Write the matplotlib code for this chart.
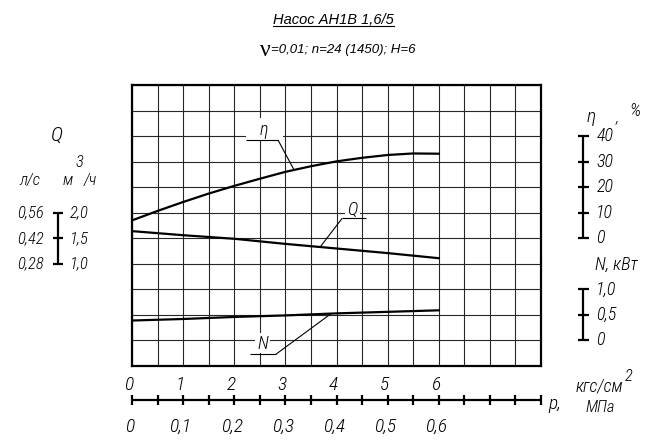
import matplotlib
matplotlib.use('Agg')
import matplotlib.pyplot as plt
from matplotlib.patches import Rectangle
import numpy as np

# pump curves, p in kgf/cm2
p = [0, 0.5, 1, 1.5, 2, 2.5, 3, 3.5, 4, 4.5, 5, 5.5, 6]
eta = [7.0, 10.7, 14.2, 17.5, 20.5, 23.3, 26.0, 28.2, 30.1, 31.5, 32.6, 33.2, 33.1]   # %
p_q = [0, 1, 2, 3, 4, 5, 6]
q = [1.64, 1.56, 1.49, 1.39, 1.30, 1.21, 1.11]        # m3/h
n_kw = [0.39, 0.42, 0.46, 0.49, 0.53, 0.56, 0.59]     # kW

# side scales
q_ticks = [1.0, 1.5, 2.0]
q_ls_lbl = ['0,28', '0,42', '0,56']
q_m3h_lbl = ['1,0', '1,5', '2,0']
eta_ticks = [0, 10, 20, 30, 40]
n_ticks = [0, 0.5, 1.0]
n_lbl = ['0', '0,5', '1,0']
p_ticks = [0, 0.5, 1, 1.5, 2, 2.5, 3, 3.5, 4, 4.5, 5, 5.5, 6, 6.5, 7, 7.5, 8]
p_lbl = [0, 1, 2, 3, 4, 5, 6]
mpa_lbl = ['0', '0,1', '0,2', '0,3', '0,4', '0,5', '0,6']

title = 'Насос АН1В 1,6/5'
subtitle = '=0,01; n=24 (1450); H=6'

# grid units: 2 cells per kgf/cm2, scales put on the rows
def gx(v):
    return 2 * np.asarray(v, dtype=float)

def g_eta(v):
    return 5 + np.asarray(v, dtype=float) / 10

def g_q(v):
    return 2 + 2 * np.asarray(v, dtype=float)

def g_n(v):
    return 1 + 2 * np.asarray(v, dtype=float)

FONT = ['Roboto Condensed', 'DejaVu Sans Condensed', 'DejaVu Sans']
K = 'black'

def txt(x, y, s, size=12, ha='left', va='center', **kw):
    ax.text(x, y, s, fontsize=size, ha=ha, va=va, family=FONT, style='italic',
            fontweight='light', color=K, clip_on=False, **kw)

def seg(xs, ys, lw=1.5, z=4):
    ax.plot(xs, ys, color=K, lw=lw, clip_on=False, solid_capstyle='butt', zorder=z)

fig = plt.figure(figsize=(6.65, 4.48), dpi=100)
ax = fig.add_axes([132 / 665, 1 - 366 / 448, 409 / 665, 281 / 448])
ax.set_xlim(0, 16)
ax.set_ylim(0, 11)
ax.set_xticks(range(17))
ax.set_yticks(range(12))
ax.tick_params(length=0, labelbottom=False, labelleft=False)
ax.grid(True, color='#262626', lw=0.8)
ax.set_axisbelow(True)
for s in ax.spines.values():
    s.set_linewidth(1.6)

# curves
ax.plot(gx(p), g_eta(eta), color=K, lw=1.6, zorder=3)
ax.plot(gx(p_q), g_q(q), color=K, lw=1.6, zorder=3)
ax.plot(gx(p_q), g_n(n_kw), color=K, lw=1.6, zorder=3)

# curve labels with leaders
def curve_label(s, tx, ty, u0, u1, uy, ex, cx, cy, box):
    ax.add_patch(Rectangle((box[0], box[1]), box[2], box[3], fc='white', ec='none', zorder=1.5))
    txt(tx, ty, s, size=13, ha='center')
    seg([u0, u1], [uy, uy], lw=0.8)
    ey = np.interp(ex, cx, cy)
    seg([u1 if ex > u1 else u0, ex], [uy, ey], lw=0.8)

curve_label('η', 5.16, 9.22, 4.46, 5.71, 8.85, 6.34, gx(p), g_eta(eta), (4.46, 8.82, 1.45, 0.9))
curve_label('Q', 8.61, 6.13, 8.22, 9.15, 5.78, 7.36, gx(p_q), g_q(q), (8.35, 5.82, 0.55, 0.62))
curve_label('N', 5.11, 0.85, 4.62, 5.63, 0.46, 7.79, gx(p_q), g_n(n_kw), (4.8, 0.5, 0.6, 0.8))

# left Q scale
xb = -2.88
seg([xb, xb], [g_q(q_ticks[0]), g_q(q_ticks[-1])], lw=1.6)
for v, l1, l2 in zip(q_ticks, q_ls_lbl, q_m3h_lbl):
    seg([xb - 0.22, xb + 0.2], [g_q(v)] * 2, lw=1.6)
    txt(xb - 0.55, g_q(v), l1, size=12, ha='right')
    txt(xb + 0.45, g_q(v), l2, size=12)
txt(-2.95, 9.05, 'Q', size=15, ha='center')
txt(-4.0, 7.28, 'л/с', size=12, ha='center')
txt(-2.50, 7.28, 'м', size=12, ha='center')
txt(-2.07, 7.95, '3', size=12, ha='center')
txt(-1.62, 7.28, '/ч', size=12, ha='center')

# right eta and N scales
xr = 17.66
seg([xr, xr], [g_eta(eta_ticks[0]), g_eta(eta_ticks[-1])], lw=1.6)
for v in eta_ticks:
    seg([xr - 0.2, xr + 0.2], [g_eta(v)] * 2, lw=1.6)
    txt(xr + 0.5, g_eta(v), str(v), size=13)
txt(17.98, 9.75, 'η', size=14, ha='center')
txt(18.98, 9.72, ',', size=12, ha='center')
txt(19.68, 10.0, '%', size=13, ha='center')

seg([xr, xr], [g_n(n_ticks[0]), g_n(n_ticks[-1])], lw=1.6)
for v, l in zip(n_ticks, n_lbl):
    seg([xr - 0.2, xr + 0.2], [g_n(v)] * 2, lw=1.6)
    txt(xr + 0.5, g_n(v), l, size=13)
txt(18.11, 3.95, 'N, кВт', size=13)

# bottom pressure ruler
yr = -1.33
seg([gx(p_ticks[0]), gx(p_ticks[-1])], [yr, yr], lw=1.6)
for v in p_ticks:
    seg([gx(v)] * 2, [yr - 0.2, yr + 0.2], lw=1.6)
for v, l in zip(p_lbl, mpa_lbl):
    txt(gx(v) - 0.12, -0.74, str(v), size=14, ha='center')
    txt(gx(v) - 0.1, -2.38, l, size=14, ha='center')
txt(16.28, -1.49, 'p,', size=14)
txt(17.35, -0.82, 'кгс/см', size=13)
txt(19.42, -0.42, '2', size=12, ha='center')
txt(18.3, -1.64, 'МПа', size=12, ha='center')

# titles
t1 = fig.text(0.502, 1 - 20 / 448, title, ha='center', va='center',
              family='Liberation Sans', style='italic', fontsize=10.5)
fig.text(271 / 665, 1 - 50 / 448, subtitle, ha='left', va='center',
         family='Liberation Sans', style='italic', fontsize=9.5)
fig.text(271 / 665, 1 - 50 / 448, 'ν', ha='right', va='center',
         family='Liberation Serif', fontsize=17)

fig.canvas.draw()
bb = t1.get_window_extent().transformed(fig.transFigure.inverted())
fig.add_artist(plt.Line2D([bb.x0, bb.x1], [bb.y0 + 0.002, bb.y0 + 0.002],
                          color=K, lw=0.8, transform=fig.transFigure))

fig.savefig('out.png', dpi=100)
